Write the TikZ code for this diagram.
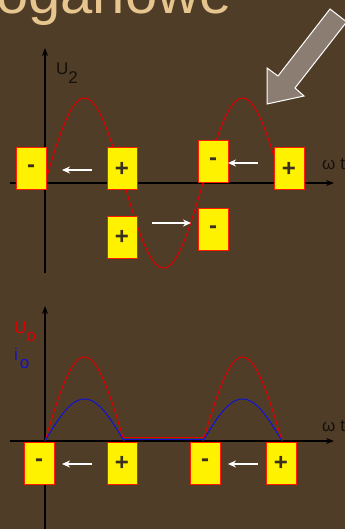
\documentclass[tikz,border=0pt]{standalone}
\usepackage{fontspec}
\setmainfont{Liberation Sans}
\usetikzlibrary{arrows.meta}
\definecolor{bg}{HTML}{503D28}
\definecolor{titlec}{HTML}{E6C58E}
\definecolor{boxred}{HTML}{FF1A00}
\definecolor{curvered}{HTML}{E00000}
\definecolor{curveblue}{HTML}{1010D8}
\definecolor{bigarrow}{HTML}{8C7D72}
\definecolor{signc}{HTML}{3A3020}
\definecolor{labc}{HTML}{151008}
\newcommand{\lowsub}[1]{\raisebox{-8.5pt}{#1}}
\begin{document}
\begin{tikzpicture}[x=1pt,y=-1pt,
  pbox/.style={draw=boxred, line width=1pt, fill=yellow, minimum width=30pt, minimum height=42pt, inner sep=0pt, text=signc, font=\fontsize{24}{24}\selectfont\bfseries},
  axis/.style={line width=1.5pt, draw=black, -{Stealth[length=8pt,width=6pt]}},
  warrow/.style={draw=white, line width=1.5pt, -{Stealth[length=8pt,width=7pt]}},
  lbl/.style={inner sep=0pt, anchor=base west, font=\fontsize{17}{17}\selectfont},
  wave/.style={line width=1pt, smooth, samples=120}
]
\fill[bg] (0,0) rectangle (345,529);
\useasboundingbox (0,0) rectangle (345,529);
\clip (0,0) rectangle (345,529);

% title (cut off at top)
\node[anchor=base west, inner sep=0pt, text=titlec, font=\fontsize{58}{58}\selectfont] (title) at (-4,14) {oganowe};

% big grey arrow
\filldraw[fill=bigarrow, draw=white, line width=1pt, line join=miter]
  (330,9) -- (278,76) -- (267,68) -- (267,104) -- (304,96) -- (295,88) -- (346.6,21.9) -- cycle;

% ---------- top plot ----------
\coordinate (tyb) at (45,273);
\coordinate (tyt) at (45,48);
\coordinate (txl) at (10,183);
\coordinate (txr) at (334,183);
\draw[axis] (tyb) -- (tyt);
\draw[axis] (txl) -- (txr);
\node[lbl, text=labc] (u2) at (56,75) {U\lowsub{2}};
\node[lbl, text=labc] (wt1) at (322,170) {ω\hspace{5pt}t};

\draw[curvered, wave, domain=0:237] plot ({45+\x},{183-85*sin(\x/79*180)});

\node[pbox] (b1) at (31,169) {-};
\node[pbox] (b2) at (122,169) {+};
\node[pbox] (b3) at (213,161.5) {-};
\node[pbox] (b4) at (289,169) {+};
\node[pbox] (b5) at (122,237) {+};
\node[pbox] (b6) at (213,229.5) {-};

\coordinate (a1s) at (92,170); \coordinate (a1e) at (62,170);
\coordinate (a2s) at (152,223); \coordinate (a2e) at (191,223);
\coordinate (a3s) at (258,163); \coordinate (a3e) at (228,163);
\draw[warrow] (a1s) -- (a1e);
\draw[warrow] (a2s) -- (a2e);
\draw[warrow] (a3s) -- (a3e);

% ---------- bottom plot ----------
\coordinate (byb) at (45,535);
\coordinate (byt) at (45,306);
\coordinate (bxl) at (10,441);
\coordinate (bxr) at (334,441);
\draw[axis] (byb) -- (byt);
\draw[axis] (bxl) -- (bxr);
\node[lbl, text=curvered] (uo) at (14,333) {U\lowsub{o}};
\node[lbl, text=curveblue] (io) at (14,360) {i\hspace{2pt}\lowsub{o}};
\node[lbl, text=labc] (wt2) at (322,431) {ω\hspace{5pt}t};

\draw[curvered, wave, domain=0:79] plot ({45+\x},{441-84*sin(\x/79*180)});
\draw[curvered, wave, domain=0:79] plot ({203+\x},{441-84*sin(\x/79*180)});
\draw[curveblue, wave, domain=0:79] plot ({45+\x},{441-42*sin(\x/79*180)});
\draw[curveblue, wave, domain=0:79] plot ({203+\x},{441-42*sin(\x/79*180)});
\draw[curvered, line width=1pt] (124,437.5) -- (203,437.5);
\draw[curveblue, line width=1pt] (124,439.5) -- (203,439.5);

\node[pbox] (c1) at (39,463) {-};
\node[pbox] (c2) at (122,463) {+};
\node[pbox] (c3) at (205,463) {-};
\node[pbox] (c4) at (281,463) {+};

\coordinate (d1s) at (92,464); \coordinate (d1e) at (62,464);
\coordinate (d2s) at (258,464); \coordinate (d2e) at (228,464);
\draw[warrow] (d1s) -- (d1e);
\draw[warrow] (d2s) -- (d2e);
\end{tikzpicture}
\end{document}
